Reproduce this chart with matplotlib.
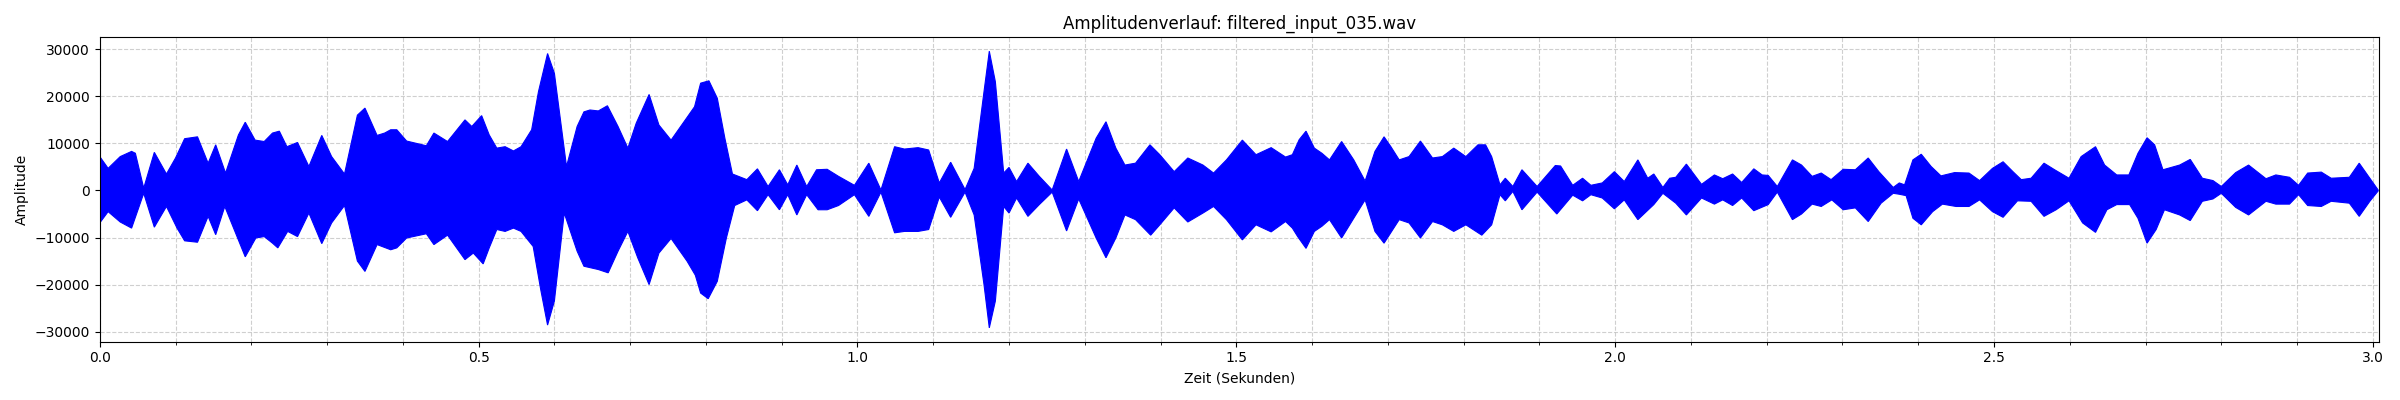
import numpy as np
import matplotlib
matplotlib.use("Agg")
import matplotlib.pyplot as plt
from matplotlib.ticker import MultipleLocator

# envelope of the waveform (seconds, amplitude)
duration = 3.0087

upper_t = [0.000, 0.011, 0.027, 0.042, 0.047, 0.058, 0.072, 0.088, 0.100, 0.112,
           0.129, 0.143, 0.153, 0.166, 0.183, 0.192, 0.205, 0.217, 0.228, 0.237,
           0.247, 0.261, 0.276, 0.293, 0.306, 0.323, 0.340, 0.350, 0.366, 0.376,
           0.384, 0.392, 0.405, 0.431, 0.441, 0.459, 0.482, 0.491, 0.504, 0.514,
           0.524, 0.535, 0.546, 0.556, 0.570, 0.579, 0.591, 0.600, 0.616, 0.630,
           0.639, 0.647, 0.658, 0.670, 0.684, 0.697, 0.708, 0.725, 0.738, 0.754,
           0.775, 0.785, 0.793, 0.804, 0.815, 0.825, 0.835, 0.854, 0.868, 0.882,
           0.897, 0.908, 0.920, 0.933, 0.946, 0.960, 0.975, 0.996, 1.015, 1.031,
           1.049, 1.062, 1.080, 1.094, 1.108, 1.123, 1.142, 1.154, 1.167, 1.174,
           1.182, 1.193, 1.200, 1.210, 1.225, 1.240, 1.257, 1.276, 1.292, 1.315,
           1.328, 1.341, 1.353, 1.367, 1.386, 1.399, 1.418, 1.436, 1.456, 1.470,
           1.487, 1.508, 1.526, 1.546, 1.565, 1.574, 1.583, 1.592, 1.603, 1.613,
           1.623, 1.639, 1.655, 1.670, 1.683, 1.695, 1.704, 1.715, 1.728, 1.743,
           1.759, 1.772, 1.787, 1.803, 1.819, 1.829, 1.837, 1.848, 1.855, 1.865,
           1.877, 1.897, 1.921, 1.928, 1.944, 1.957, 1.968, 1.983, 1.999, 2.012,
           2.030, 2.043, 2.051, 2.063, 2.072, 2.080, 2.094, 2.114, 2.131, 2.142,
           2.155, 2.167, 2.183, 2.194, 2.202, 2.214, 2.234, 2.246, 2.260, 2.272,
           2.285, 2.301, 2.317, 2.334, 2.348, 2.367, 2.375, 2.382, 2.393, 2.404,
           2.417, 2.430, 2.448, 2.467, 2.481, 2.498, 2.512, 2.525, 2.536, 2.549,
           2.566, 2.580, 2.599, 2.615, 2.634, 2.646, 2.662, 2.678, 2.690, 2.702,
           2.712, 2.723, 2.745, 2.759, 2.775, 2.789, 2.800, 2.819, 2.836, 2.859,
           2.872, 2.890, 2.902, 2.914, 2.932, 2.945, 2.969, 2.982, 2.996, 3.007]
upper_a = [7200, 4700, 7200, 8300, 7900, 500, 8100, 3500, 6900, 11000,
           11400, 5800, 9700, 3700, 11800, 14500, 10700, 10400, 12200, 12600,
           9300, 10200, 5100, 11700, 7200, 3500, 16000, 17500, 11700, 12200,
           12900, 12900, 10500, 9500, 12200, 10400, 15000, 13600, 15900, 11800,
           9000, 9300, 8400, 9300, 12900, 21000, 29100, 24900, 5100, 13600,
           16700, 17100, 16900, 18000, 13600, 9000, 14300, 20400, 13900, 10700,
           15500, 17800, 22800, 23300, 19600, 11100, 3500, 2300, 4600, 850,
           4400, 1200, 5400, 850, 4400, 4500, 3000, 1100, 5800, 100,
           9300, 8800, 9100, 8600, 1600, 6000, 200, 4700, 21000, 29600,
           23100, 3700, 4900, 1900, 5800, 3000, 100, 8800, 1900, 11100,
           14600, 9000, 5400, 5800, 9700, 7600, 4000, 6900, 5400, 3700,
           6500, 10700, 7600, 9100, 7100, 7600, 10800, 12600, 9000, 7900,
           6500, 10400, 6500, 2000, 8300, 11400, 9300, 6500, 7200, 10500,
           6900, 7200, 9000, 7200, 9700, 9700, 7200, 1200, 2600, 850,
           4400, 850, 5300, 5200, 1100, 2600, 1100, 1600, 4000, 1900,
           6500, 2600, 3500, 640, 2600, 2800, 5600, 1300, 3300, 2500,
           3500, 1700, 4600, 3300, 3200, 850, 6500, 5400, 3000, 3700,
           2300, 4500, 4400, 6900, 4000, 640, 1600, 1200, 6500, 7700,
           5100, 3100, 3800, 3700, 2100, 4700, 6100, 4000, 2300, 2600,
           5800, 4400, 2600, 7200, 9300, 5400, 3300, 3300, 7900, 11200,
           9700, 4400, 5400, 6600, 2600, 2100, 850, 3800, 5400, 2500,
           3300, 2800, 1100, 3700, 3900, 2600, 2800, 5800, 2600, 100]

lower_t = [0.000, 0.011, 0.027, 0.042, 0.058, 0.072, 0.088, 0.102, 0.112, 0.129,
           0.143, 0.153, 0.165, 0.192, 0.206, 0.217, 0.228, 0.235, 0.248, 0.261,
           0.276, 0.293, 0.306, 0.323, 0.340, 0.350, 0.366, 0.384, 0.392, 0.405,
           0.431, 0.441, 0.459, 0.482, 0.493, 0.506, 0.514, 0.524, 0.535, 0.546,
           0.556, 0.572, 0.582, 0.591, 0.600, 0.613, 0.630, 0.639, 0.658, 0.671,
           0.684, 0.697, 0.710, 0.725, 0.738, 0.754, 0.775, 0.786, 0.793, 0.803,
           0.815, 0.827, 0.838, 0.854, 0.868, 0.882, 0.897, 0.908, 0.920, 0.933,
           0.948, 0.960, 0.975, 0.996, 1.015, 1.031, 1.049, 1.062, 1.080, 1.094,
           1.108, 1.123, 1.142, 1.154, 1.167, 1.174, 1.182, 1.193, 1.200, 1.210,
           1.225, 1.240, 1.257, 1.276, 1.292, 1.315, 1.328, 1.341, 1.353, 1.367,
           1.387, 1.399, 1.418, 1.436, 1.456, 1.470, 1.487, 1.508, 1.526, 1.546,
           1.565, 1.574, 1.581, 1.592, 1.603, 1.613, 1.623, 1.639, 1.655, 1.670,
           1.683, 1.695, 1.715, 1.728, 1.743, 1.759, 1.772, 1.787, 1.803, 1.824,
           1.837, 1.848, 1.855, 1.865, 1.877, 1.897, 1.923, 1.944, 1.957, 1.968,
           1.983, 1.999, 2.012, 2.030, 2.051, 2.063, 2.080, 2.094, 2.114, 2.131,
           2.142, 2.155, 2.167, 2.183, 2.202, 2.214, 2.234, 2.246, 2.260, 2.272,
           2.286, 2.301, 2.317, 2.334, 2.351, 2.367, 2.375, 2.384, 2.393, 2.404,
           2.419, 2.432, 2.450, 2.467, 2.481, 2.498, 2.512, 2.531, 2.549, 2.566,
           2.582, 2.599, 2.617, 2.634, 2.649, 2.662, 2.679, 2.690, 2.702, 2.714,
           2.725, 2.745, 2.759, 2.775, 2.789, 2.800, 2.819, 2.836, 2.859, 2.872,
           2.890, 2.902, 2.914, 2.932, 2.945, 2.969, 2.982, 2.996, 3.007]
lower_a = [-6900, -4500, -6700, -8000, -600, -7800, -3400, -8000, -10700, -11000,
           -5500, -9400, -3400, -14100, -10100, -9800, -11200, -12200, -8700, -9800,
           -4800, -11300, -6900, -3200, -15000, -17200, -11500, -12600, -12200, -10100,
           -9200, -11500, -9500, -14700, -13300, -15600, -12200, -8300, -8700, -8000,
           -8700, -11900, -21100, -28600, -23500, -4800, -12900, -16100, -16800, -17500,
           -12900, -8700, -14300, -20000, -13300, -10200, -15000, -18000, -21800, -23000,
           -19300, -10100, -3200, -2000, -4300, -900, -4100, -900, -5200, -900,
           -4100, -4100, -3200, -900, -5500, -350, -9000, -8700, -8700, -8300,
           -1400, -5700, -350, -5200, -20000, -29200, -23500, -3400, -4800, -1600,
           -5500, -3000, -350, -8600, -1800, -10100, -14300, -10100, -5200, -6200,
           -9500, -7300, -3700, -6700, -4800, -3400, -6200, -10500, -7300, -8800,
           -6600, -8000, -9800, -12300, -8700, -7600, -6200, -10100, -5900, -2000,
           -8700, -11200, -6200, -6900, -10100, -6600, -7300, -8700, -7300, -9500,
           -7300, -900, -2200, -200, -4100, -350, -5000, -1000, -2200, -900,
           -1600, -3900, -2000, -6200, -3000, -600, -2700, -5200, -1600, -2900,
           -2000, -3200, -1600, -4300, -3000, -350, -6200, -5000, -2900, -3400,
           -2000, -4100, -3700, -6600, -2700, -600, -800, -1100, -5900, -7300,
           -4500, -2900, -3400, -3400, -2000, -4500, -5700, -2200, -2300, -5500,
           -4100, -2200, -6900, -8900, -4100, -3000, -3000, -5900, -11200, -8300,
           -4100, -5200, -6400, -2300, -1800, -600, -3600, -5200, -2300, -2900,
           -2900, -900, -3200, -3400, -2300, -2700, -5500, -2300, -100]

fig, ax = plt.subplots(figsize=(24, 4), dpi=100)

# closed outline: upper edge left to right, lower edge back again
outline_t = np.concatenate([upper_t, lower_t[::-1]])
outline_a = np.concatenate([upper_a, lower_a[::-1]])
ax.fill(outline_t, outline_a, color='b', linewidth=0.8, zorder=2)

ax.set_xlim(0, duration)
ax.xaxis.set_minor_locator(MultipleLocator(0.1))
ax.grid(True, which='both', linestyle='--', alpha=0.6)

ax.set_title('Amplitudenverlauf: filtered_input_035.wav')
ax.set_xlabel('Zeit (Sekunden)')
ax.set_ylabel('Amplitude')

plt.tight_layout()
plt.savefig('out.png', dpi=100)
